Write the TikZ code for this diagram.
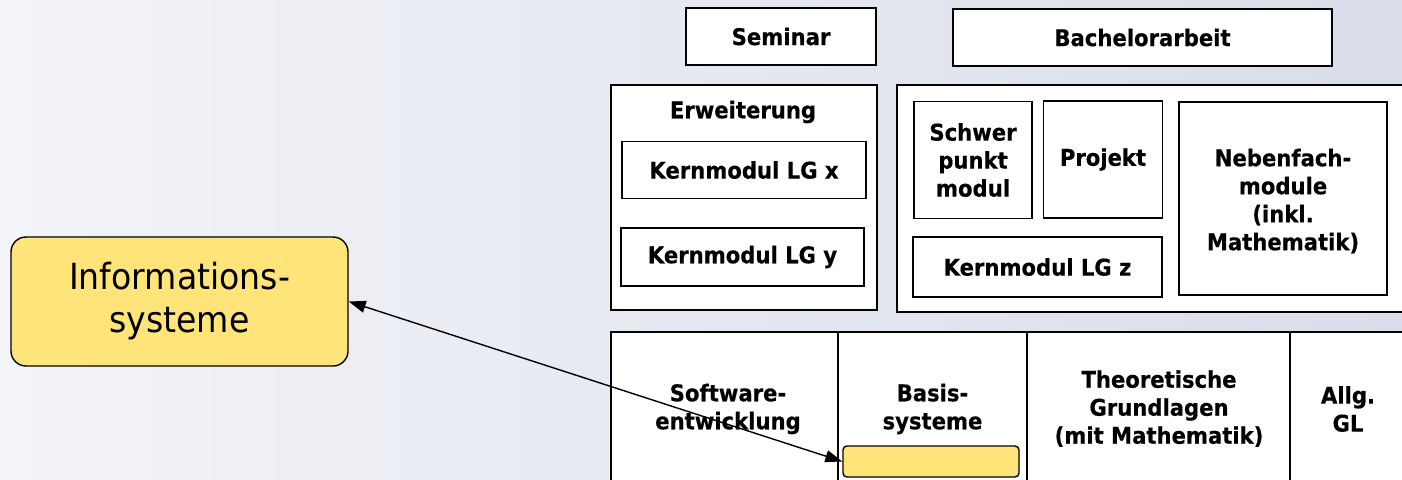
\documentclass[tikz,border=0pt]{standalone}
\usepackage{fontspec}
\setmainfont{DejaVu Sans}[FakeStretch=0.92, BoldFeatures={FakeBold=0.4}]
\usetikzlibrary{arrows.meta}
\definecolor{bgL}{RGB}{243,244,248}
\definecolor{bgR}{RGB}{216,221,233}
\definecolor{yel}{RGB}{255,228,122}
\tikzset{
  box/.style={draw=black, line width=1.6pt, fill=white, inner sep=0pt},
  lbl/.style={font=\bfseries\fontsize{23}{28}\selectfont, align=center, inner sep=0pt},
  ybox/.style={draw=black, line width=1.4pt, fill=yel, rounded corners=4pt, inner sep=0pt},
  conn/.style={line width=1.4pt, {Triangle[length=17pt,width=12pt]}-{Triangle[length=17pt,width=12pt]}}
}
\begin{document}
\begin{tikzpicture}[x=1pt,y=-1pt]
\useasboundingbox (0,0) rectangle (1402,479);
\clip (0,0) rectangle (1402,479);
\shade[left color=bgL, right color=bgR] (0,0) rectangle (1402,479);
% top row
\node[box, minimum width=190pt, minimum height=57pt] (sem) at (781,36.5) {};
\node[lbl] (semt) at (sem.center) {Seminar};
\node[box, minimum width=379pt, minimum height=57pt] (bach) at (1142.5,37.5) {};
\node[lbl] (bacht) at (bach.center) {Bachelorarbeit};
% Erweiterung
\node[box, minimum width=266pt, minimum height=225pt] (erw) at (744,197.5) {};
\node[lbl] (erwt) at (743,112) {Erweiterung};
\node[box, minimum width=244pt, minimum height=57pt] (kx) at (744,170) {};
\node[lbl] (kxt) at (kx.center) {Kernmodul LG x};
\node[box, minimum width=243pt, minimum height=58pt] (ky) at (742.5,257) {};
\node[lbl] (kyt) at (ky.center) {Kernmodul LG y};
% right group
\node[box, minimum width=515pt, minimum height=227pt] (rb) at (1154.5,198.5) {};
\node[box, minimum width=118pt, minimum height=117pt] (schw) at (973,160) {};
\node[lbl] (schwt) at (schw.center) {Schwer\\punkt\\modul};
\node[box, minimum width=119pt, minimum height=117pt] (proj) at (1103,159.5) {};
\node[lbl] (projt) at (proj.center) {Projekt};
\node[box, minimum width=249pt, minimum height=60pt] (kz) at (1037.5,267) {};
\node[lbl] (kzt) at (kz.center) {Kernmodul LG z};
\node[box, minimum width=208pt, minimum height=193pt] (neb) at (1283,198.5) {};
\node[lbl] (nebt) at (1283,201) {Nebenfach-\\module\\(inkl.\\Mathematik)};
% bottom row
\node[box, minimum width=227pt, minimum height=163pt] (sw) at (724.5,413.5) {};
\node[lbl] (swt) at (728,409) {Software-\\entwicklung};
\node[box, minimum width=189pt, minimum height=163pt] (bs) at (932.5,413.5) {};
\node[lbl] (bst) at (932.5,409) {Basis-\\systeme};
\node[box, minimum width=263pt, minimum height=163pt] (th) at (1158.5,413.5) {};
\node[lbl] (tht) at (1159,408.5) {Theoretische\\Grundlagen\\(mit Mathematik)};
\node[box, minimum width=118pt, minimum height=163pt] (al) at (1349,413.5) {};
\node[lbl] (alt) at (1348,409) {Allg.\\GL};
% yellow boxes
\node[ybox, minimum width=176pt, minimum height=31pt] (ys) at (931,461.5) {};
\node[ybox, rounded corners=15pt, minimum width=337pt, minimum height=129pt] (info) at (179.5,301.5) {};
\node[font=\fontsize{36}{43}\selectfont, align=center, inner sep=0pt] (infot) at (info.center) {Informations-\\systeme};
% connector
\draw[conn] (info.east) -- (ys.west);
\end{tikzpicture}
\end{document}
